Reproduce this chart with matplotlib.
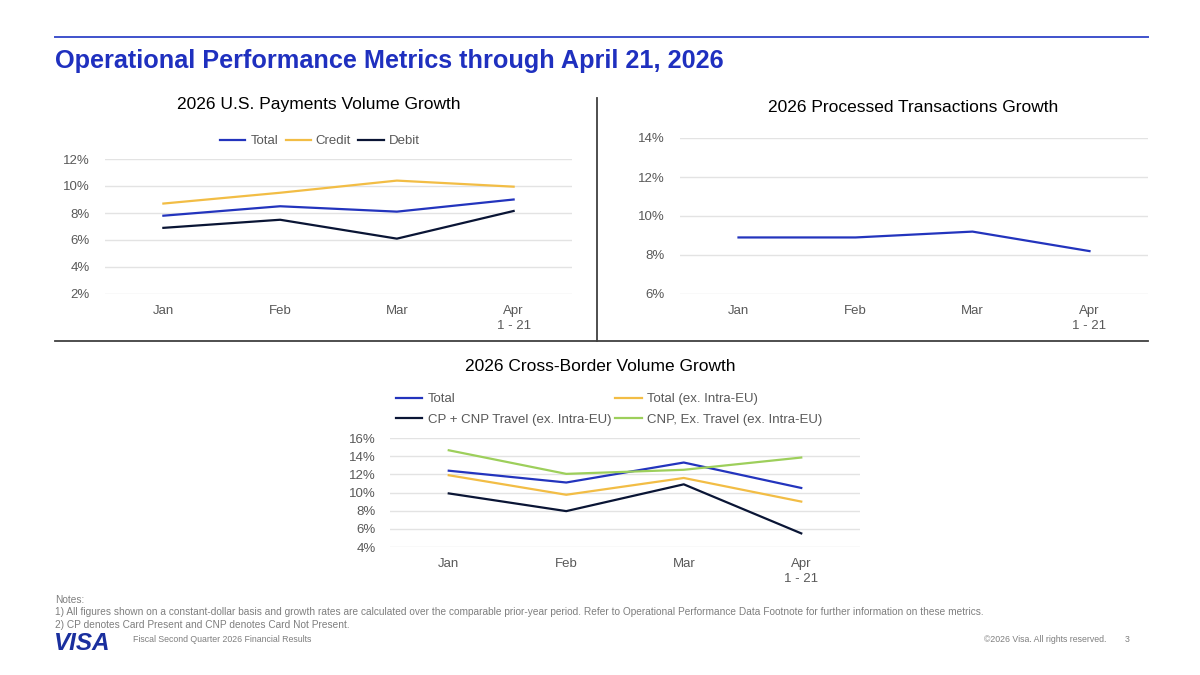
import matplotlib
matplotlib.use("Agg")
import matplotlib.pyplot as plt
from matplotlib.lines import Line2D

plt.rcParams['font.family'] = ['Liberation Sans', 'DejaVu Sans']

# ---------------- data ----------------
months = ["Jan", "Feb", "Mar", "Apr\n1 - 21"]

us_total = [7.8, 8.5, 8.1, 9.0]
us_credit = [8.7, 9.5, 10.4, 9.95]
us_debit = [6.9, 7.5, 6.1, 8.15]

proc_tx = [8.9, 8.9, 9.2, 8.2]

cb_total = [12.4, 11.1, 13.3, 10.5]
cb_total_ex_eu = [11.9, 9.75, 11.6, 9.0]
cb_cp_cnp_travel = [9.9, 7.95, 10.9, 5.5]
cb_cnp_ex_travel = [14.65, 12.05, 12.5, 13.85]

us_ticks = [2, 4, 6, 8, 10, 12]
proc_ticks = [6, 8, 10, 12, 14]
cb_ticks = [4, 6, 8, 10, 12, 14, 16]

# ---------------- style ----------------
BLUE = '#2334bd'
GOLD = '#f2bd45'
NAVY = '#0a1535'
GREEN = '#9dcf5b'
GRID = '#e3e3e3'
TICK = '#595959'
TITLE_BLUE = '#1f30bf'

W, H = 1200, 675
fig = plt.figure(figsize=(12, 6.75), dpi=100)


def px_axes(x0, x1, ytop, ybot):
    return fig.add_axes([x0 / W, 1 - ybot / H, (x1 - x0) / W, (ybot - ytop) / H])


def style_axes(ax, ticks, pad_y=11):
    ax.set_xlim(-0.5, len(months) - 0.5)
    ax.set_ylim(ticks[0], ticks[-1])
    ax.set_yticks(ticks)
    ax.set_yticklabels([f"{t}%" for t in ticks])
    ax.set_xticks(range(len(months)))
    ax.set_xticklabels(months, linespacing=1.35)
    for s in ax.spines.values():
        s.set_visible(False)
    ax.grid(axis='y', color=GRID, linewidth=1.0)
    ax.set_axisbelow(True)
    ax.tick_params(axis='both', length=0, labelsize=9.5, labelcolor=TICK)
    ax.tick_params(axis='y', pad=pad_y)
    ax.tick_params(axis='x', pad=8)
    ax.set_facecolor('none')


# top rule and title
fig.add_artist(Line2D([55 / W, 1148 / W], [1 - 37 / H, 1 - 37 / H], color='#3f52cc', linewidth=1.4))
fig.text(55 / W, 1 - 61 / H, "Operational Performance Metrics through April 21, 2026",
         fontsize=18.2, fontweight='bold', color=TITLE_BLUE, va='center', ha='left')

# dividers
fig.add_artist(Line2D([597 / W, 597 / W], [1 - 98 / H, 1 - 341 / H], color='#404040', linewidth=1.3))
fig.add_artist(Line2D([55 / W, 1148 / W], [1 - 341 / H, 1 - 341 / H], color='#404040', linewidth=1.3))

# ---------- chart 1: US payments volume ----------
ax1 = px_axes(105, 572, 159, 294)
style_axes(ax1, us_ticks)
x = range(len(months))
ax1.plot(x, us_total, color=BLUE, lw=1.6, label="Total")
ax1.plot(x, us_credit, color=GOLD, lw=1.6, label="Credit")
ax1.plot(x, us_debit, color=NAVY, lw=1.6, label="Debit")
fig.text(319 / W, 1 - 104 / H, "2026 U.S. Payments Volume Growth", fontsize=12.5,
         ha='center', va='center', color='black')
ax1.legend(loc='center', bbox_to_anchor=(320 / W, 1 - 141 / H), bbox_transform=fig.transFigure,
           ncol=3, frameon=False, fontsize=9.5, labelcolor=TICK, handlelength=1.9,
           handletextpad=0.4, columnspacing=0.55)

# ---------- chart 2: processed transactions ----------
ax2 = px_axes(680, 1148, 138, 294)
style_axes(ax2, proc_ticks)
ax2.plot(x, proc_tx, color=BLUE, lw=1.6)
fig.text(913 / W, 1 - 107 / H, "2026 Processed Transactions Growth", fontsize=12.5,
         ha='center', va='center', color='black')

# ---------- chart 3: cross-border ----------
ax3 = px_axes(390, 860, 438, 547)
style_axes(ax3, cb_ticks, pad_y=10)
ax3.plot(x, cb_total, color=BLUE, lw=1.6, label="Total")
ax3.plot(x, cb_total_ex_eu, color=GOLD, lw=1.6, label="Total (ex. Intra-EU)")
ax3.plot(x, cb_cp_cnp_travel, color=NAVY, lw=1.6, label="CP + CNP Travel (ex. Intra-EU)")
ax3.plot(x, cb_cnp_ex_travel, color=GREEN, lw=1.6, label="CNP, Ex. Travel (ex. Intra-EU)")
fig.text(600 / W, 1 - 366 / H, "2026 Cross-Border Volume Growth", fontsize=12.5,
         ha='center', va='center', color='black')
h, l = ax3.get_legend_handles_labels()
order = [0, 2, 1, 3]
ax3.legend([h[i] for i in order], [l[i] for i in order], loc='upper left',
           bbox_to_anchor=(396 / W, 1 - 393 / H), bbox_transform=fig.transFigure,
           ncol=2, frameon=False, fontsize=9.5, labelcolor=TICK, handlelength=2.0,
           handletextpad=0.4, columnspacing=0.3, labelspacing=0.62, borderaxespad=0,
           borderpad=0)

# ---------- notes & footer ----------
NOTE = '#7f7f7f'
NFS = 7.3
fig.text(55 / W, 1 - 600 / H, "Notes:", fontsize=NFS, color=NOTE, va='center')
fig.text(55 / W, 1 - 612 / H,
         "1) All figures shown on a constant-dollar basis and growth rates are calculated over the comparable "
         "prior-year period. Refer to Operational Performance Data Footnote for further information on these metrics.",
         fontsize=NFS, color=NOTE, va='center')
fig.text(55 / W, 1 - 625 / H, "2) CP denotes Card Present and CNP denotes Card Not Present.",
         fontsize=NFS, color=NOTE, va='center')
fig.text(54 / W, 1 - 644 / H, "VISA", fontsize=17.5, fontweight='bold', fontstyle='italic',
         color='#1a2f9e', va='center', ha='left')
fig.text(133 / W, 1 - 640 / H, "Fiscal Second Quarter 2026 Financial Results", fontsize=6.3,
         color=NOTE, va='center')
fig.text(1106 / W, 1 - 640 / H, "\u00a92026 Visa. All rights reserved.", fontsize=6.3,
         color=NOTE, va='center', ha='right')
fig.text(1130 / W, 1 - 640 / H, "3", fontsize=6.3, color=NOTE, va='center', ha='right')

fig.savefig("out.png", dpi=100, facecolor='white')
